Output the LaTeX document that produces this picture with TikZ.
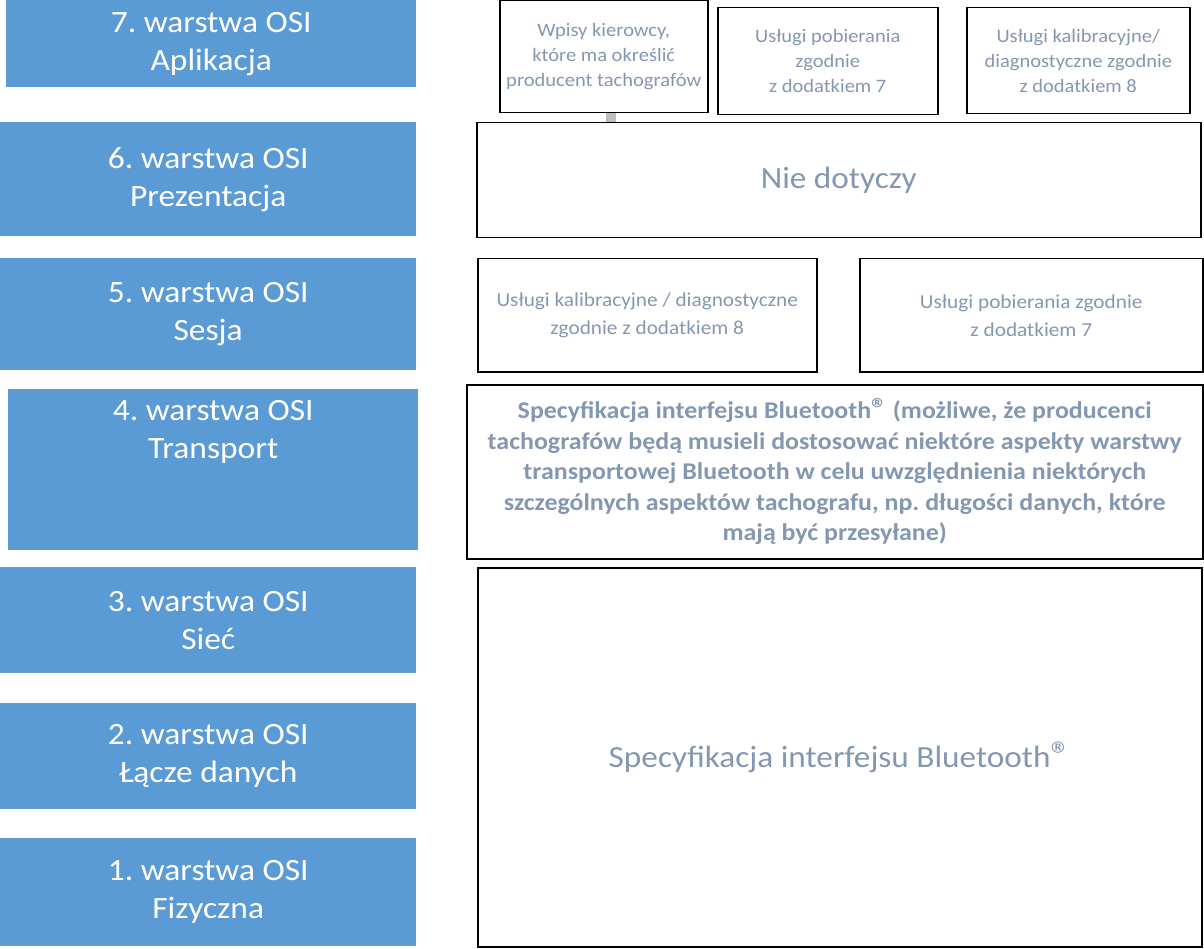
\documentclass[tikz,border=0pt]{standalone}
\usepackage{fontspec}
\setmainfont{Carlito}[FakeStretch=1.08]
\usetikzlibrary{positioning}
\frenchspacing

\definecolor{osiblue}{HTML}{5B9BD5}
\definecolor{osigray}{HTML}{8497B0}
\definecolor{stubgray}{HTML}{BFBFBF}

\newcommand{\regmark}{\scalebox{1.2}{®}}

\tikzset{
    layer/.style={
      fill=osiblue,
      anchor=north west,
      inner sep=0pt,
      minimum width=410pt,
      text=white,
      align=center,
      font=\fontsize{31}{38}\selectfont
    },
    spec box/.style={
      draw=black,
      line width=1.5pt,
      anchor=north west,
      inner sep=0pt,
      align=center,
      text=osigray
    },
    small text/.style={
      font=\fontsize{19}{25}\selectfont
    },
    mid text/.style={
      font=\fontsize{19.7}{28}\selectfont
    },
    big text/.style={
      font=\fontsize{30.8}{36}\selectfont
    },
    stub/.style={
      draw=stubgray,
      line width=10pt
    }
  }

\begin{document}
\begin{tikzpicture}[x=1pt,y=-1pt]
      \useasboundingbox (0,0) rectangle (1204,949);

      % warstwy OSI
      \node[layer, minimum height=87pt] (l7) at (6,0) {7. warstwa OSI\\Aplikacja};
      \node[layer, minimum width=416pt, minimum height=114pt] (l6) at (0,122) {6. warstwa OSI\\Prezentacja};
      \node[layer, minimum width=416pt, minimum height=112pt] (l5) at (0,258) {5. warstwa OSI\\Sesja};
      \node[layer, minimum height=161pt] (l4) at (8,389) {};
      \node[layer, anchor=north, minimum width=0pt] (l4t) at ([yshift=-11pt]l4.north) {4. warstwa OSI\\Transport};
      \node[layer, minimum width=416pt, minimum height=106pt] (l3) at (0,567) {3. warstwa OSI\\Sieć};
      \node[layer, minimum width=416pt, minimum height=106pt] (l2) at (0,703) {2. warstwa OSI\\Łącze danych};
      \node[layer, minimum width=416pt, minimum height=108pt] (l1) at (0,838) {1. warstwa OSI\\Fizyczna};

      % aplikacja
      \node[spec box, small text, minimum width=208pt, minimum height=112pt] (wpisy) at (499,0)
        {Wpisy kierowcy,\\które ma określić\\producent tachografów};
      \node[spec box, small text, minimum width=220pt, minimum height=107pt] (pobApp) at (717,7)
        {Usługi pobierania\\zgodnie\\z dodatkiem 7};
      \node[spec box, small text, minimum width=223pt, minimum height=106pt] (kalApp) at (966,7)
        {Usługi kalibracyjne/\\diagnostyczne zgodnie\\z dodatkiem 8};

      % prezentacja
      \node[spec box, big text, minimum width=724pt, minimum height=115pt] (nie) at (476,122) {Nie dotyczy};
      \draw[stub] ([xshift=7pt]wpisy.south) -- ([xshift=7pt]wpisy.south |- nie.north);

      % sesja
      \node[spec box, mid text, minimum width=339pt, minimum height=113pt] (kalSes) at (477,258)
        {Usługi kalibracyjne / diagnostyczne\\zgodnie z dodatkiem 8};
      \node[spec box, mid text, minimum width=343pt, minimum height=113pt] (pobSes) at (859,258)
        {Usługi pobierania zgodnie\\z dodatkiem 7};

      % transport
      \node[spec box, minimum width=736pt, minimum height=174pt, font=\bfseries\fontsize{24}{30.5}\selectfont] (trans) at (466,384)
        {Specyfikacja interfejsu Bluetooth\regmark{} (możliwe, że producenci\\
         tachografów będą musieli dostosować niektóre aspekty warstwy\\
         transportowej Bluetooth w celu uwzględnienia niektórych\\
         szczególnych aspektów tachografu, np. długości danych, które\\
         mają być przesyłane)};

      % sieć, łącze danych, fizyczna
      \node[spec box, big text, minimum width=724pt, minimum height=379pt] (bt) at (477,567)
        {Specyfikacja interfejsu Bluetooth\regmark};
    \end{tikzpicture}
\end{document}
